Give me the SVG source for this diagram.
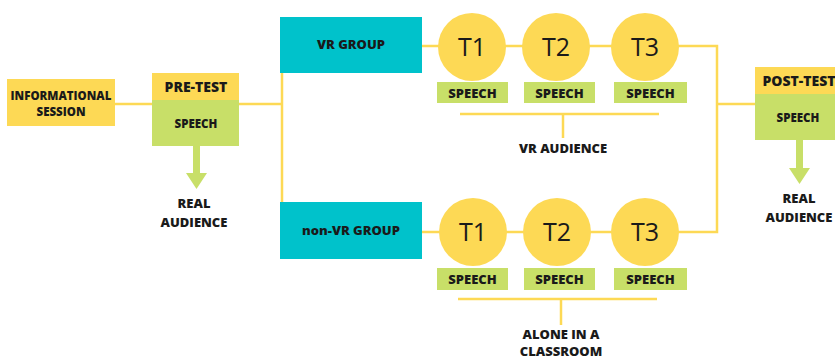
<svg xmlns="http://www.w3.org/2000/svg" width="835" height="359" viewBox="0 0 835 359">
<style>
.y{fill:#FDD955}
.g{fill:#C8DF68}
.t{fill:#00C2CB}
.ln{stroke:#FDD955;stroke-width:2.5;fill:none}
.lb{font-family:"Open Sans","DejaVu Sans",sans-serif;font-weight:800;fill:#1a1a1a;text-anchor:middle}
.s11{font-size:11.5px}
.s12{font-size:13px}
.s13{font-size:14px}
.tt{font-family:"Open Sans","DejaVu Sans",sans-serif;font-size:25px;fill:#1a1a1a;text-anchor:middle}
</style>
<rect width="835" height="359" fill="#ffffff"/>
<g id="connectors">
<line class="ln" x1="115" y1="104" x2="152" y2="104"/>
<line class="ln" x1="239" y1="104" x2="282" y2="104"/>
<line class="ln" x1="282" y1="73" x2="282" y2="202"/>
<polyline class="ln" points="422,46 717,46 717,232 422,232"/>
<line class="ln" x1="717" y1="104" x2="755" y2="104"/>
<line class="ln" x1="460" y1="114" x2="659" y2="114"/>
<line class="ln" x1="563" y1="114" x2="563" y2="138"/>
<line class="ln" x1="458" y1="299" x2="657" y2="299"/>
<line class="ln" x1="561" y1="299" x2="561" y2="325"/>
<polygon class="g" points="193,146 200,146 200,173 207,173 196.5,189 186,173 193,173"/>
<polygon class="g" points="796,140 803,140 803,168 810,168 799.5,184 789,168 796,168"/>
</g>
<g id="informational">
<rect class="y" x="7" y="79" width="108" height="47"/>
<text class="lb s11" x="61" y="100">INFORMATIONAL</text>
<text class="lb s11" x="61" y="116">SESSION</text>
</g>
<g id="pretest">
<rect class="y" x="152" y="73" width="87" height="27"/>
<rect class="g" x="152" y="100" width="87" height="46"/>
<text class="lb s13" x="196" y="92">PRE-TEST</text>
<text class="lb s11" x="196" y="128">SPEECH</text>
</g>
<g id="real1">
<text class="lb s12" x="194" y="208">REAL</text>
<text class="lb s12" x="194" y="227">AUDIENCE</text>
</g>
<g id="vrgroup">
<rect class="t" x="280" y="17" width="142" height="56"/>
<text class="lb s12" x="351" y="49">VR GROUP</text>
</g>
<g id="nonvrgroup">
<rect class="t" x="280" y="202" width="142" height="57"/>
<text class="lb s12" x="351" y="235">non-VR GROUP</text>
</g>
<g id="vr-t1"><circle class="y" cx="472" cy="47" r="34"/><text class="tt" x="472" y="56">T1</text></g>
<g id="vr-t2"><circle class="y" cx="556" cy="47" r="34"/><text class="tt" x="556" y="56">T2</text></g>
<g id="vr-t3"><circle class="y" cx="645" cy="47" r="34"/><text class="tt" x="645" y="56">T3</text></g>
<g id="vr-s1"><rect class="g" x="437" y="82" width="71" height="21"/><text class="lb s12" x="472.5" y="97.5">SPEECH</text></g>
<g id="vr-s2"><rect class="g" x="524" y="82" width="71" height="21"/><text class="lb s12" x="559.5" y="97.5">SPEECH</text></g>
<g id="vr-s3"><rect class="g" x="614" y="82" width="73" height="21"/><text class="lb s12" x="650.5" y="97.5">SPEECH</text></g>
<g id="vraudience"><text class="lb s12" x="563" y="153">VR AUDIENCE</text></g>
<g id="nv-t1"><circle class="y" cx="473" cy="232" r="34"/><text class="tt" x="473" y="241">T1</text></g>
<g id="nv-t2"><circle class="y" cx="557" cy="232" r="34"/><text class="tt" x="557" y="241">T2</text></g>
<g id="nv-t3"><circle class="y" cx="645" cy="232" r="34"/><text class="tt" x="645" y="241">T3</text></g>
<g id="nv-s1"><rect class="g" x="437" y="268" width="71" height="22"/><text class="lb s12" x="472.5" y="284">SPEECH</text></g>
<g id="nv-s2"><rect class="g" x="524" y="268" width="71" height="22"/><text class="lb s12" x="559.5" y="284">SPEECH</text></g>
<g id="nv-s3"><rect class="g" x="614" y="268" width="73" height="22"/><text class="lb s12" x="650.5" y="284">SPEECH</text></g>
<g id="alone"><text class="lb s12" x="561" y="339">ALONE IN A</text><text class="lb s12" x="561" y="356">CLASSROOM</text></g>
<g id="posttest">
<rect class="y" x="755" y="67" width="87" height="27"/>
<rect class="g" x="755" y="94" width="87" height="46"/>
<text class="lb s13" x="799" y="86">POST-TEST</text>
<text class="lb s11" x="798" y="122">SPEECH</text>
</g>
<g id="real2">
<text class="lb s12" x="799" y="203">REAL</text>
<text class="lb s12" x="799" y="222">AUDIENCE</text>
</g>
</svg>
